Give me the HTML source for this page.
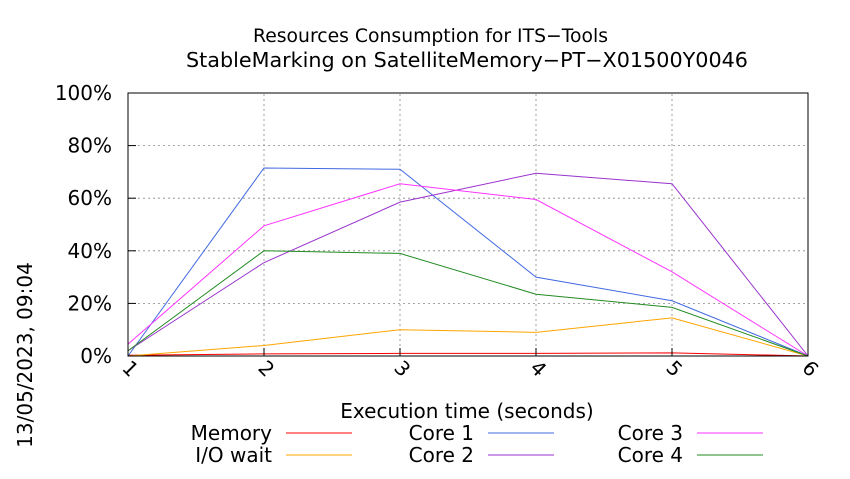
<!DOCTYPE html>
<html><head><meta charset="utf-8"><style>
body{margin:0;background:#fff;font-family:"DejaVu Sans",sans-serif;}
svg text{font-family:"DejaVu Sans",sans-serif;fill:#000;}
</style></head><body>
<svg width="850" height="475" xmlns="http://www.w3.org/2000/svg">
<text x="253" y="42" font-size="19" textLength="355" lengthAdjust="spacingAndGlyphs">Resources Consumption for ITS−Tools</text>
<text x="186" y="67" font-size="20" textLength="562" lengthAdjust="spacingAndGlyphs">StableMarking on SatelliteMemory−PT−X01500Y0046</text>
<g id="grid"></g>
<g id="series"></g>
<rect x="128" y="93" width="680" height="263" fill="none" stroke="#000" stroke-width="1"/>
<g id="axes"></g>
<text x="467" y="418" font-size="20" text-anchor="middle">Execution time (seconds)</text>
<text transform="translate(32,355) rotate(-90)" font-size="20" text-anchor="middle">13/05/2023, 09:04</text>
<g id="legend"></g>
</svg>
<script>
const xValues=[1,2,3,4,5,6];
const yTicks=[0,20,40,60,80,100];
const memory=[0.3,0.8,1,1,1.2,0];
const ioWait=[0,4,10,9,14.5,0];
const core1=[0,71.5,71,30,21,0];
const core2=[2,35.5,58.5,69.5,65.5,0];
const core3=[4.5,49.5,65.5,59.5,32,0];
const core4=[2,40,39,23.5,18.5,0];
const seriesNames=["Memory","I/O wait","Core 1","Core 2","Core 3","Core 4"];
const seriesData=[memory,ioWait,core1,core2,core3,core4];
const seriesColors=["#ff0000","#ffa500","#4169e1","#9932cc","#ff33ff","#228b22"];
const NS="http://www.w3.org/2000/svg";
const X0=128,X1=808,Y0=356,Y1=93;
const xs=v=>X0+(v-1)/(6-1)*(X1-X0);
const ys=v=>Y0-v/100*(Y0-Y1);
function mk(t,a,p){const e=document.createElementNS(NS,t);for(const k in a)e.setAttribute(k,a[k]);p.appendChild(e);return e;}
const grid=document.getElementById('grid'),axes=document.getElementById('axes'),ser=document.getElementById('series'),leg=document.getElementById('legend');
yTicks.forEach(t=>{
 if(t>0&&t<100){const g=mk('line',{x1:X0,x2:X1,y1:ys(t),y2:ys(t),stroke:'#888','stroke-dasharray':'2,3','stroke-width':0.8},grid);
 
 }
 const tk=mk('line',{x1:X0,x2:X0+8,y1:ys(t),y2:ys(t),stroke:'#000'},axes);
 
 
 const l=mk('text',{x:X0-16,y:ys(t)+7,'font-size':20,'text-anchor':'end'},axes);l.textContent=t+'%';
 
 
});
xValues.forEach(v=>{
 if(v>1&&v<6){const g=mk('line',{x1:xs(v),x2:xs(v),y1:Y0,y2:Y1,stroke:'#888','stroke-dasharray':'2,3','stroke-width':0.8},grid);
 
 }
 const tk=mk('line',{x1:xs(v),x2:xs(v),y1:Y0,y2:Y0-8,stroke:'#000'},axes);
 
 
 const l=mk('text',{transform:`translate(${xs(v)-7},${Y0+13}) rotate(45)`,'font-size':20},axes);l.textContent=v;
 
 
});
seriesData.forEach((d,i)=>{
 const p=mk('polyline',{points:d.map((v,j)=>xs(xValues[j])+','+ys(v)).join(' '),fill:'none',stroke:seriesColors[i],'stroke-width':1},ser);
 
 
});
const colTextX=[272,474,683],rowY=[433,455];
seriesNames.forEach((n,i)=>{
 const c=Math.floor(i/2),r=i%2;
 const t=mk('text',{x:colTextX[c],y:rowY[r]+7,'font-size':20,'text-anchor':'end'},leg);t.textContent=n;
 
 
 const l=mk('line',{x1:colTextX[c]+14,x2:colTextX[c]+80,y1:rowY[r],y2:rowY[r],stroke:seriesColors[i]},leg);
 
 
});
</script>
</body></html>
